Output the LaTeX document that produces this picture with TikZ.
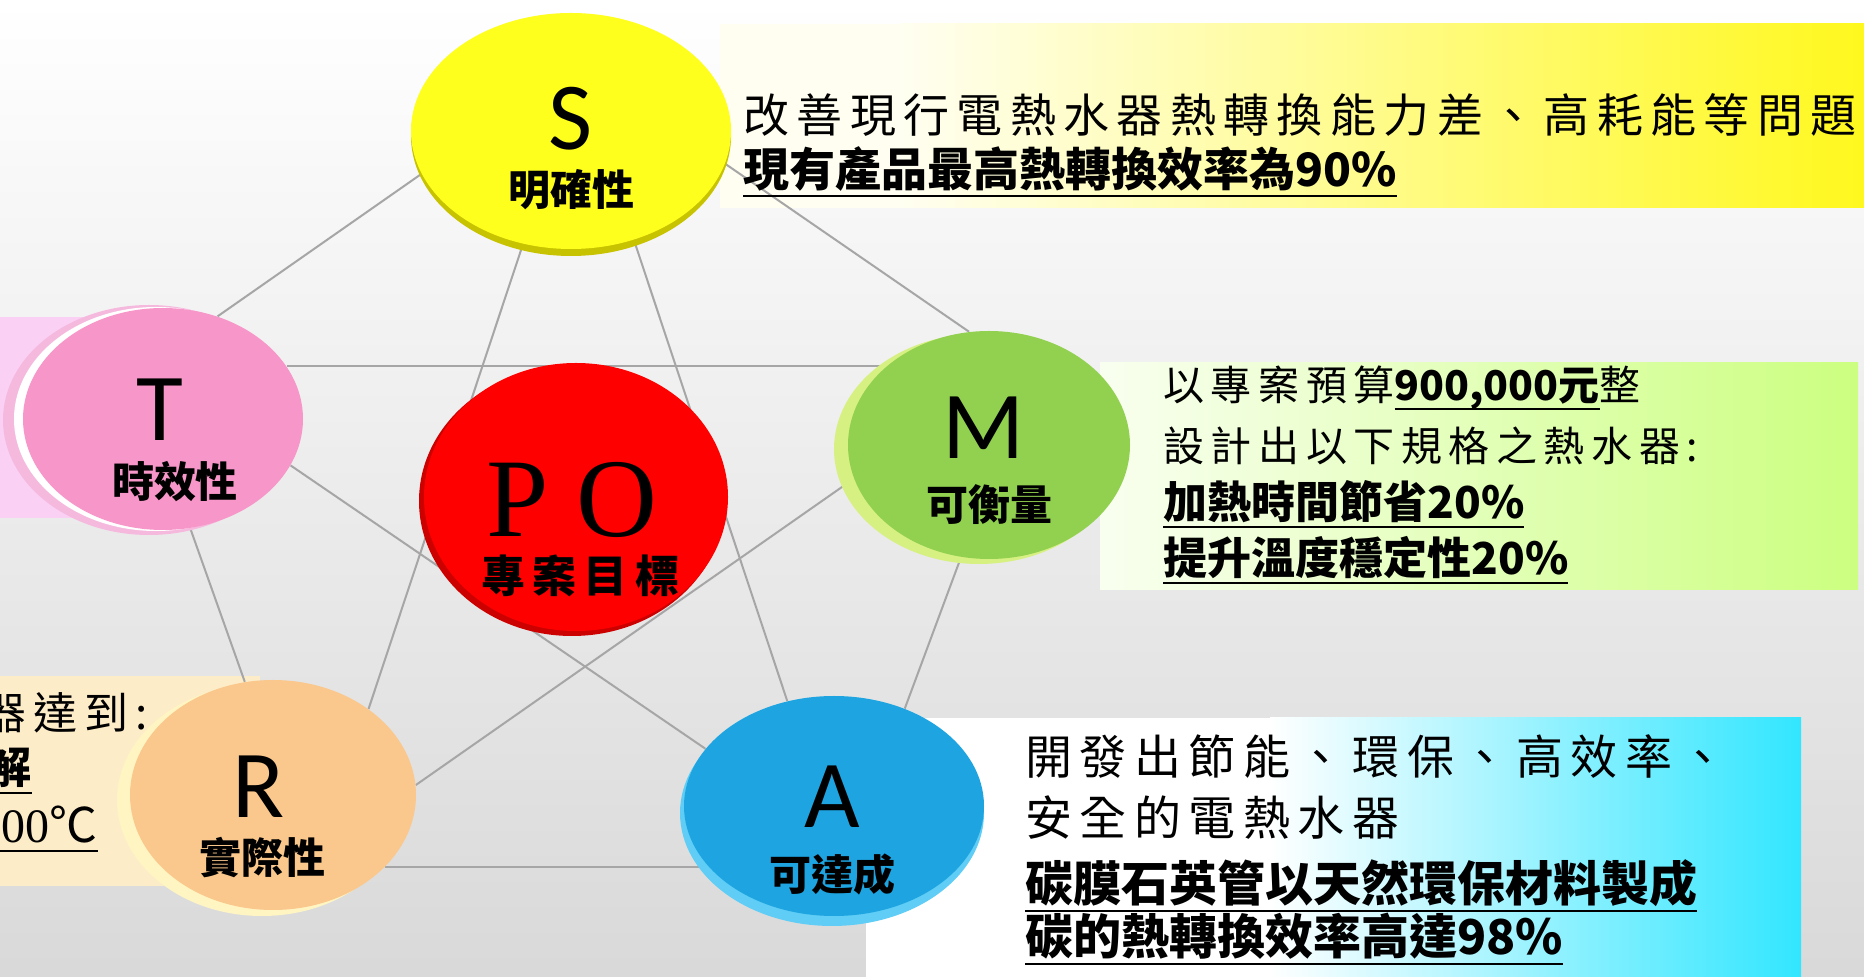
\documentclass[tikz,border=0pt]{standalone}
\usepackage{fontspec}
\setmainfont{Carlito}
\newfontfamily\cjk{Noto Sans CJK TC}
\newfontfamily\cjkwide[LetterSpace=16]{Noto Sans CJK TC}
\newfontfamily\romfont{Liberation Serif}
\usepackage{tikz}
\usetikzlibrary{shapes.geometric,backgrounds}

\definecolor{ballS}{RGB}{255,255,30}
\definecolor{rimS}{RGB}{200,195,0}
\definecolor{ballT}{RGB}{247,150,200}
\definecolor{rimT}{RGB}{246,185,222}
\definecolor{ballM}{RGB}{146,208,80}
\definecolor{rimM}{RGB}{215,240,130}
\definecolor{ballR}{RGB}{250,200,140}
\definecolor{rimR}{RGB}{255,245,195}
\definecolor{ballA}{RGB}{30,165,225}
\definecolor{rimA}{RGB}{95,205,245}
\definecolor{ballP}{RGB}{255,0,0}
\definecolor{rimP}{RGB}{205,0,0}
\definecolor{boxS}{RGB}{255,248,30}
\definecolor{boxM}{RGB}{204,255,128}
\definecolor{boxA}{RGB}{50,230,255}
\definecolor{boxT}{RGB}{250,208,245}
\definecolor{boxR}{RGB}{253,236,200}

\newcommand{\ulin}[1]{\setbox0=\hbox{#1}\rlap{\rule[-5pt]{\wd0}{1.1pt}}\box0}

\tikzset{%
  bubble/.style={ellipse, inner sep=0pt},
  linkline/.style={draw=black!35, line width=1pt},
  bigletter/.style={inner sep=0pt, font=\fontsize{48}{48}\selectfont},
  bubbletag/.style={inner sep=0pt, font=\cjk\bfseries\fontsize{21}{21}\selectfont},
  notetext/.style={anchor=west, inner sep=0pt},
  %notebold/.style={font=\cjk\bfseries}
}

\begin{document}
\begin{tikzpicture}[x=0.5pt,y=-0.5pt]
\useasboundingbox (0,0) rectangle (1864,977);
% rims behind the balls
\node[bubble, fill=rimS, minimum width=160pt, minimum height=120pt] (S-rim) at (571,136) {};
\node[bubble, fill=rimT, minimum width=146pt, minimum height=115pt] (T-glow) at (149,420) {};
\node[bubble, fill=white, minimum width=142pt, minimum height=112pt] (T-rim) at (156,419) {};
\node[bubble, fill=rimM, minimum width=145pt, minimum height=115pt] (M-rim) at (979,449) {};
\node[bubble, fill=rimP, minimum width=153pt, minimum height=135pt] (P-rim) at (572,501) {};
\node[bubble, fill=rimR, minimum width=145pt, minimum height=116pt] (R-rim) at (262,800) {};
\node[bubble, fill=rimA, minimum width=152pt, minimum height=113pt] (A-rim) at (832,813) {};
% balls
\node[bubble, fill=ballS, minimum width=160pt, minimum height=118pt] (S) at (571,131) {};
\node[bubble, fill=ballT, minimum width=140pt, minimum height=111pt] (T) at (163,419) {};
\node[bubble, fill=ballM, minimum width=141pt, minimum height=114pt] (M) at (989,445) {};
\node[bubble, fill=ballP, minimum width=152pt, minimum height=134pt] (P) at (576,497) {};
\node[bubble, fill=ballR, minimum width=143pt, minimum height=115pt] (R) at (273,795) {};
\node[bubble, fill=ballA, minimum width=150pt, minimum height=110pt] (A) at (834,806) {};
% ball texts
\node[bigletter] (S-letter) at (571,119) {S};
\node[bubbletag] (S-tag) at (571,190) {明確性};
\node[bigletter] (T-letter) at (160,410) {T};
\node[bubbletag] (T-tag) at (175,482) {時效性};
\node[bigletter] (M-letter) at (984,428) {M};
\node[bubbletag] (M-tag) at (989,505) {可衡量};
\node[inner sep=0pt, font=\romfont\fontsize{56}{56}\selectfont] (P-letter) at (572,500) {P O};
\node[bubbletag, font=\cjk\bfseries\fontsize{22}{22}\selectfont] (P-tag) at (580,576) {專\,案\,目\,標};
\node[bigletter] (R-letter) at (259,787) {R};
\node[bubbletag] (R-tag) at (262,858) {實際性};
\node[bigletter] (A-letter) at (832,797) {A};
\node[bubbletag] (A-tag) at (832,874) {可達成};
% S notes
\node[notetext, font=\cjkwide\fontsize{23}{23}\selectfont] (S-note1) at (743,115) {改善現行電熱水器熱轉換能力差、高耗能等問題};
\node[notetext, font=\cjk\bfseries\fontsize{23}{23}\selectfont] (S-note2) at (743,172) {\ulin{現有產品最高熱轉換效率為90\%}};
% M notes
\node[notetext, font=\fontsize{20.5}{20.5}\selectfont] (M-note1) at (1163,388) {{\cjkwide 以專案預算}{\cjk\bfseries\ulin{900,000元}}{\cjkwide 整}};
\node[notetext, font=\cjkwide\fontsize{20.5}{20.5}\selectfont] (M-note2) at (1163,446) {設計出以下規格之熱水器:};
\node[notetext, font=\cjk\bfseries\fontsize{22}{22}\selectfont] (M-note3) at (1163,504) {\ulin{加熱時間節省20\%}};
\node[notetext, font=\cjk\bfseries\fontsize{22}{22}\selectfont] (M-note4) at (1163,560) {\ulin{提升溫度穩定性20\%}};
% A notes
\node[notetext, font=\cjkwide\fontsize{23.5}{23.5}\selectfont] (A-note1) at (1025,757) {開發出節能、環保、高效率、};
\node[notetext, font=\cjkwide\fontsize{23.5}{23.5}\selectfont] (A-note2) at (1025,818) {安全的電熱水器};
\node[notetext, font=\cjk\bfseries\fontsize{24}{24}\selectfont] (A-note3) at (1025,886) {\ulin{碳膜石英管以天然環保材料製成}};
\node[notetext, font=\cjk\bfseries\fontsize{24}{24}\selectfont] (A-note4) at (1025,939) {\ulin{碳的熱轉換效率高達98\%}};
% R notes, cut at the left edge
\node[inner sep=0pt, anchor=east, font=\cjkwide\fontsize{22}{22}\selectfont] (R-note1) at (148,713) {器達到:};
\node[inner sep=0pt, anchor=east, font=\cjk\bfseries\fontsize{22}{22}\selectfont] (R-note2) at (32,770) {\ulin{解}};
\node[inner sep=0pt, anchor=east, font=\fontsize{24}{24}\selectfont] (R-note3) at (98,829) {\ulin{{\romfont 100}{\cjk ℃}}};

\begin{scope}[on background layer]
\shade[top color=white, middle color=black!3, bottom color=black!15] (0,0) rectangle (1864,977);
% boxes
\fill[boxS!6] (720,24) rectangle (901,208);
\shade[left color=boxS!6, right color=boxS] (900,24) rectangle (1864,208);
\shade[left color=boxM!12, right color=boxM] (1100,363) rectangle (1858,590);
\fill[white] (866,718) rectangle (1271,977);
\shade[left color=white, right color=boxA] (1270,718) rectangle (1801,977);
\fill[boxT] (0,317) rectangle (200,518);
\fill[boxR] (0,676) rectangle (260,886);
% pentagon and star
\draw[linkline] (S.196) -- (T.62);
\draw[linkline] (S.348) -- (M.100);
\draw[linkline] (T.23) -- (T.23 -| M);
\draw[linkline] (S.247) -- (R.42);
\draw[linkline] (S.300) -- (A.114);
\draw[linkline] (T.340) -- (A.156);
\draw[linkline] (M.194) -- (R.4);
\draw[linkline] (T.284) -- (R.104);
\draw[linkline] (M.256) -- (A.54);
\draw[linkline] (R.327) -- (R.327 -| A);
\end{scope}
\end{tikzpicture}
\end{document}
